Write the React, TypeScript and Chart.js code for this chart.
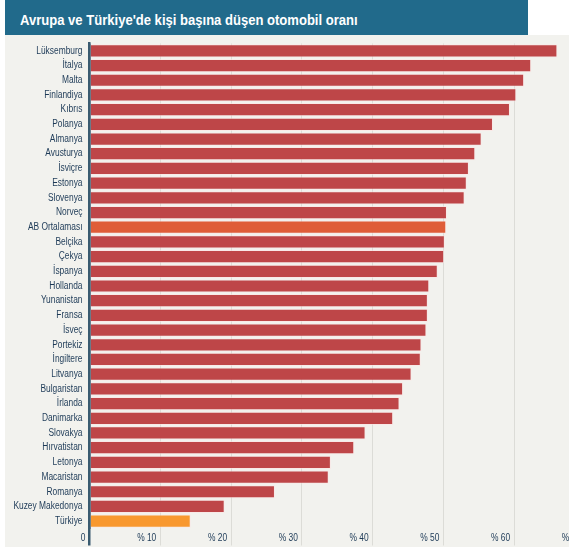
import React, { useEffect, useRef } from "react";
import { Chart, registerables } from "chart.js";

Chart.register(...registerables);

const TITLE = "Avrupa ve Türkiye'de kişi başına düşen otomobil oranı";

const countries = [
  "Lüksemburg", "İtalya", "Malta", "Finlandiya", "Kıbrıs", "Polanya", "Almanya",
  "Avusturya", "İsviçre", "Estonya", "Slovenya", "Norveç", "AB Ortalaması",
  "Belçika", "Çekya", "İspanya", "Hollanda", "Yunanistan", "Fransa", "İsveç",
  "Portekiz", "İngiltere", "Litvanya", "Bulgaristan", "İrlanda", "Danimarka",
  "Slovakya", "Hırvatistan", "Letonya", "Macaristan", "Romanya",
  "Kuzey Makedonya", "Türkiye",
];

const carsPerPerson = [
  66.1, 62.4, 61.4, 60.3, 59.4, 57.0, 55.4,
  54.5, 53.6, 53.3, 53.0, 50.5, 50.4,
  50.2, 50.1, 49.2, 48.0, 47.8, 47.8, 47.6,
  46.9, 46.8, 45.5, 44.3, 43.8, 42.9,
  39.0, 37.4, 34.1, 33.8, 26.2,
  19.1, 14.3,
];

const xTickLabels = ["0", "% 10", "% 20", "% 30", "% 40", "% 50", "% 60", "% 70"];

const euAverageLabel = "AB Ortalaması";
const turkeyLabel = "Türkiye";

const FONT = "'Liberation Sans', Arial, sans-serif";
const NARROW = 0.84;
const RED = "#be4648";
const EU_COLOR = "#df5d38";
const TR_COLOR = "#f8982f";
const AXIS_COLOR = "#3a5b70";
const GRID_COLOR = "#dcdcd7";
const TEXT_COLOR = "#1d3a57";

// Draws the axis tick labels in a condensed (narrow) face, as in the original.
const narrowLabels = {
  id: "narrowLabels",
  afterDraw(chart: any) {
    const ctx = chart.ctx;
    const xs = chart.scales.x;
    const ys = chart.scales.y;
    ctx.save();
    ctx.font = `10px ${FONT}`;
    ctx.fillStyle = TEXT_COLOR;
    ctx.textAlign = "right";
    ctx.textBaseline = "middle";
    ys.ticks.forEach((_t: any, i: number) => {
      const y = ys.getPixelForTick(i);
      const label = String(ys.getLabelForValue(ys.ticks[i].value));
      ctx.save();
      ctx.translate(ys.right - 7, y);
      ctx.scale(NARROW, 1);
      ctx.fillText(label, 0, 0);
      ctx.restore();
    });
    xs.ticks.forEach((_t: any, i: number) => {
      const x = xs.getPixelForTick(i);
      ctx.save();
      ctx.translate(x - 4, xs.top + 9.5);
      ctx.scale(NARROW, 1);
      ctx.fillText(xTickLabels[i], 0, 0);
      ctx.restore();
    });
    ctx.restore();
  },
};

export default function App() {
  const canvasRef = useRef<HTMLCanvasElement | null>(null);

  useEffect(() => {
    const canvas = canvasRef.current;
    if (!canvas) return;
    const colors = countries.map((c) =>
      c === euAverageLabel ? EU_COLOR : c === turkeyLabel ? TR_COLOR : RED
    );
    const chart = new Chart(canvas, {
      type: "bar",
      data: {
        labels: countries,
        datasets: [
          {
            data: carsPerPerson,
            backgroundColor: colors,
            borderColor: "rgba(255,225,225,0.55)",
            borderWidth: 1,
            categoryPercentage: 1,
            barPercentage: 0.9,
          },
        ],
      },
      options: {
        indexAxis: "y",
        animation: false,
        responsive: false,
        maintainAspectRatio: false,
        layout: { padding: { top: 8.5, right: 35, bottom: 0, left: 0 } },
        plugins: {
          legend: { display: false },
          tooltip: { enabled: false },
          title: { display: false },
        },
        scales: {
          x: {
            type: "linear",
            position: "bottom",
            min: 0,
            max: 70,
            afterFit: (scale: any) => {
              scale.height = 19.5;
            },
            border: { display: false },
            grid: {
              drawTicks: true,
              tickLength: 17,
              color: (ctx: any) => (ctx.tick && ctx.tick.value === 0 ? AXIS_COLOR : GRID_COLOR),
              lineWidth: (ctx: any) => (ctx.tick && ctx.tick.value === 0 ? 2.5 : 1),
            },
            ticks: {
              display: false,
              stepSize: 10,
              autoSkip: false,
            },
          },
          y: {
            type: "category",
            z: 1,
            afterFit: (scale: any) => {
              scale.width = 89.5;
            },
            border: { display: true, color: AXIS_COLOR, width: 2.5 },
            grid: { display: false, drawTicks: false },
            ticks: {
              display: false,
              autoSkip: false,
            },
          },
        },
      },
      plugins: [narrowLabels],
    });
    return () => chart.destroy();
  }, []);

  return (
    <div
      style={{
        position: "fixed",
        left: 0,
        top: 0,
        width: 569,
        height: 548,
        overflow: "hidden",
        background: "#ffffff",
      }}
    >
      <div
        style={{
          position: "absolute",
          left: 5,
          top: 0,
          width: 523,
          height: 34.5,
          background: "#216a8b",
        }}
      >
        <span
          style={{
            position: "absolute",
            left: 15,
            top: 12,
            lineHeight: "15px",
            fontFamily: FONT,
            fontWeight: "bold",
            fontSize: 15,
            color: "#ffffff",
            whiteSpace: "nowrap",
            transform: "scaleX(0.87)",
            transformOrigin: "left center",
          }}
        >
          {TITLE}
        </span>
      </div>
      <div
        style={{
          position: "absolute",
          left: 5,
          top: 34.5,
          width: 564,
          height: 512.5,
          background: "#f2f2ee",
        }}
      />
      <canvas
        ref={canvasRef}
        width={620}
        height={513}
        style={{ position: "absolute", left: 0, top: 35, width: 620, height: 513 }}
      />
    </div>
  );
}
